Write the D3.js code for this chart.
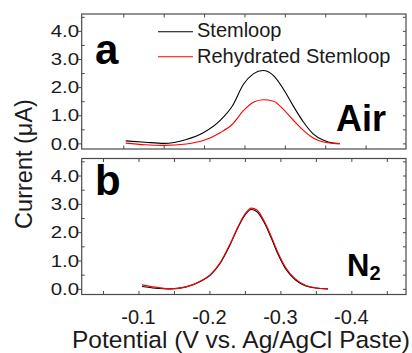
<!DOCTYPE html>
<html>
<head>
<meta charset="utf-8">
<script src="https://cdn.jsdelivr.net/npm/d3@7"></script>
<style>
  body { margin: 0; background: #fff; }
  svg { display: block; font-family: Arial, "Liberation Sans", sans-serif; }
</style>
</head>
<body>
<div id="chart"></div>
<script>
// panel a (air) - potential in V, current in uA
const topPotential = [-0.103, -0.127, -0.150, -0.178, -0.199, -0.220, -0.235, -0.249, -0.261, -0.273, -0.286, -0.298, -0.310, -0.323, -0.335, -0.348, -0.360, -0.368];
const topStemloop = [0.09, 0.04, 0.00, 0.14, 0.38, 0.82, 1.33, 2.11, 2.47, 2.59, 2.41, 1.94, 1.35, 0.76, 0.34, 0.11, 0.01, -0.01];
const topRehydrated = [0.01, -0.05, -0.07, -0.02, 0.10, 0.38, 0.68, 1.17, 1.46, 1.55, 1.50, 1.22, 0.84, 0.46, 0.19, 0.05, 0.00, -0.01];

// panel b (N2)
const botPotential = [-0.105, -0.124, -0.145, -0.166, -0.187, -0.201, -0.215, -0.229, -0.240, -0.250, -0.259, -0.267, -0.277, -0.287, -0.297, -0.307, -0.321, -0.335, -0.349, -0.367];
const botStemloop = [0.08, 0.02, 0.00, 0.06, 0.26, 0.48, 0.90, 1.55, 2.15, 2.60, 2.80, 2.72, 2.35, 1.80, 1.20, 0.72, 0.32, 0.11, 0.03, 0.00];
const botRehydrated = [0.14, 0.06, 0.00, 0.06, 0.27, 0.49, 0.92, 1.58, 2.18, 2.64, 2.85, 2.78, 2.40, 1.86, 1.26, 0.77, 0.35, 0.13, 0.04, 0.00];

const seriesNames = ["Stemloop", "Rehydrated Stemloop"];
const seriesColors = ["#000000", "#ff0000"];
const yMajor = [0, 1, 2, 3, 4];
const yMinor = [-0.5, 0.5, 1.5, 2.5, 3.5, 4.5];
const topXTicks = [-0.10, -0.15, -0.20, -0.25, -0.30, -0.35, -0.40];
const botXTicks = [-0.05, -0.10, -0.15, -0.20, -0.25, -0.30, -0.35, -0.40, -0.45];
const botXLabels = [-0.1, -0.2, -0.3, -0.4];

const width = 412, height = 353;
const svg = d3.select("#chart").append("svg")
  .attr("width", width)
  .attr("height", height);

const left = 81.7, right = 406;
const frameColor = "#4a4a4a";

function drawPanel(p) {
  const x = d3.scaleLinear(p.xDomain, [left, right]);
  const y = d3.scaleLinear([-0.2, 4.6], [p.bottom, p.top]);
  const g = svg.append("g");

  // x ticks, inside, top and bottom edges
  g.append("g")
    .attr("transform", `translate(0,${p.bottom})`)
    .call(d3.axisBottom(x).tickValues(p.xTicks).tickSize(-3.5).tickFormat(""));
  g.append("g")
    .attr("transform", `translate(0,${p.top})`)
    .call(d3.axisTop(x).tickValues(p.xTicks).tickSize(-3.5).tickFormat(""));

  // y ticks
  const minor = yMinor.filter(v => v > -0.2 && v < 4.6);
  g.append("g")
    .attr("transform", `translate(${left},0)`)
    .call(d3.axisLeft(y).tickValues(yMajor).tickSize(3.5).tickFormat(""));
  g.append("g")
    .attr("transform", `translate(${left},0)`)
    .call(d3.axisLeft(y).tickValues(minor).tickSize(-3).tickFormat(""));
  g.append("g")
    .attr("transform", `translate(${right},0)`)
    .call(d3.axisRight(y).tickValues(yMajor.concat(minor)).tickSize(-3).tickFormat(""));

  g.selectAll(".domain").remove();
  g.selectAll(".tick line").attr("stroke", frameColor).attr("stroke-width", 1);

  // y labels
  g.selectAll(".ylab")
    .data(yMajor)
    .join("text")
    .attr("class", "ylab")
    .attr("transform", d => `translate(79,${y(d)}) scale(1.2,1)`)
    .attr("dy", "0.36em")
    .attr("text-anchor", "end")
    .attr("font-size", 17)
    .attr("fill", "#1a1a1a")
    .text(d3.format(".1f"));

  // frame
  g.append("rect")
    .attr("x", left)
    .attr("y", p.top)
    .attr("width", right - left)
    .attr("height", p.bottom - p.top)
    .attr("fill", "none")
    .attr("stroke", frameColor)
    .attr("stroke-width", 1.2);

  const line = d3.line()
    .x(d => x(d[0]))
    .y(d => y(d[1]))
    .curve(d3.curveMonotoneX);

  p.series.forEach((s, i) => {
    g.append("path")
      .datum(p.potential.map((v, j) => [v, s[j]]))
      .attr("fill", "none")
      .attr("stroke", seriesColors[i])
      .attr("stroke-width", 1.1)
      .attr("d", line);
  });

  // panel letter
  g.append("text")
    .attr("x", 95)
    .attr("y", p.letterY)
    .attr("font-size", 42)
    .attr("font-weight", "bold")
    .text(p.letter);

  return { x, y, g };
}

const topPanel = drawPanel({
  xDomain: [-0.0485, -0.45],
  xTicks: topXTicks,
  top: 14, bottom: 149,
  potential: topPotential,
  series: [topStemloop, topRehydrated],
  letter: "a", letterY: 63.5
});

const botPanel = drawPanel({
  xDomain: [-0.02, -0.477],
  xTicks: botXTicks,
  top: 158.5, bottom: 294.5,
  potential: botPotential,
  series: [botStemloop, botRehydrated],
  letter: "b", letterY: 195
});

// x labels, bottom panel only
svg.selectAll(".xlab")
  .data(botXLabels)
  .join("text")
  .attr("class", "xlab")
  .attr("x", d => botPanel.x(d))
  .attr("y", 324)
  .attr("text-anchor", "middle")
  .attr("font-size", 20)
  .attr("fill", "#1a1a1a")
  .text(d => d.toFixed(1));

// legend in panel a
seriesNames.forEach((name, i) => {
  const ly = 31.7 + i * 25;
  svg.append("line")
    .attr("x1", 158).attr("x2", 193)
    .attr("y1", ly).attr("y2", ly)
    .attr("stroke", seriesColors[i])
    .attr("stroke-width", 1.1);
  svg.append("text")
    .attr("x", 197)
    .attr("y", ly + 5 + (i === 1 ? 1 : 0))
    .attr("font-size", 20)
    .attr("fill", "#1a1a1a")
    .text(name);
});

// condition labels
svg.append("text")
  .attr("x", 336)
  .attr("y", 131)
  .attr("font-size", 36)
  .attr("font-weight", "bold")
  .text("Air");

const n2 = svg.append("text")
  .attr("x", 347)
  .attr("y", 276)
  .attr("font-size", 31)
  .attr("font-weight", "bold");
n2.append("tspan").text("N");
n2.append("tspan").attr("font-size", 20).attr("dy", 4).text("2");

// axis titles
svg.append("text")
  .attr("x", 72)
  .attr("y", 348)
  .attr("font-size", 24.5)
  .attr("textLength", 338)
  .attr("lengthAdjust", "spacingAndGlyphs")
  .attr("fill", "#1a1a1a")
  .text("Potential (V vs. Ag/AgCl Paste)");

svg.append("text")
  .attr("transform", "translate(32,164) rotate(-90)")
  .attr("text-anchor", "middle")
  .attr("font-size", 23.5)
  .attr("fill", "#1a1a1a")
  .text("Current (\u03bcA)");
</script>
</body>
</html>
